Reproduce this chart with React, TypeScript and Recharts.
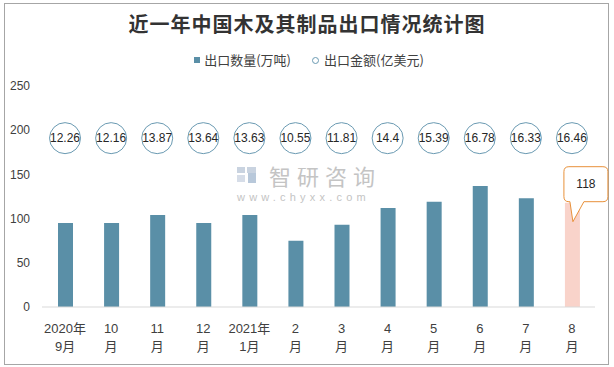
import React from 'react';
import { ComposedChart, Bar, Line, XAxis, YAxis, Cell } from 'recharts';

const categories = ['2020年9月', '10月', '11月', '12月', '2021年1月', '2月', '3月', '4月', '5月', '6月', '7月', '8月'];
const tickTop = ['2020年', '10', '11', '12', '2021年', '2', '3', '4', '5', '6', '7', '8'];
const tickBottom = ['9月', '月', '月', '月', '1月', '月', '月', '月', '月', '月', '月', '月'];
const exportVolume = [95, 95, 104, 95, 104, 75, 93, 112, 119, 137, 123, 118];
const exportValue = [12.26, 12.16, 13.87, 13.64, 13.63, 10.55, 11.81, 14.4, 15.39, 16.78, 16.33, 16.46];
const valueMarkerLevel = 191;
const yTicks = [0, 50, 100, 150, 200, 250];

const data = categories.map((c, i) => ({
  category: c,
  volume: exportVolume[i],
  value: exportValue[i],
  marker: valueMarkerLevel,
}));

const BAR = '#5A8FA7';
const PINK = '#F9D3CA';
const CIRCLE = '#6A9AB2';
const ORANGE = '#E8913A';
const FONT = '"Liberation Sans", "Noto Sans CJK SC", sans-serif';
const CJK = '"Noto Sans CJK SC", sans-serif';

const XTick = (props: any) => {
  const { x, y, index } = props;
  return (
    <g>
      <text x={x} y={y + 19} textAnchor="middle" dominantBaseline="central" fontSize={13} fill="#404040" fontFamily={FONT}>
        {tickTop[index]}
      </text>
      <text x={x} y={y + 37} textAnchor="middle" dominantBaseline="central" fontSize={13} fill="#404040" fontFamily={FONT}>
        {tickBottom[index]}
      </text>
    </g>
  );
};

const ValueDot = (props: any) => {
  const { cx, cy, index, payload } = props;
  return (
    <g key={`dot-${index}`}>
      <circle cx={cx} cy={cy} r={15.5} fill="#fff" stroke={CIRCLE} strokeWidth={1} />
      <text x={cx} y={cy} textAnchor="middle" dominantBaseline="central" fontSize={12} fill="#262626" fontFamily={FONT}>
        {payload.value}
      </text>
    </g>
  );
};

const Callout = (props: any) => {
  const { x, y, index, value } = props;
  if (index !== categories.length - 1) return null;
  const L = x - 1;
  const R = x + 43;
  const T = y - 36;
  const B = y - 1;
  const r = 5;
  const d = `M ${L + r},${T} H ${R - r} Q ${R},${T} ${R},${T + r} V ${B - r} Q ${R},${B} ${R - r},${B} H ${x + 19} L ${x + 8},${y + 19} L ${x + 5},${B} H ${L + r} Q ${L},${B} ${L},${B - r} V ${T + r} Q ${L},${T} ${L + r},${T} Z`;
  return (
    <g>
      <path d={d} fill="#fff" stroke={ORANGE} strokeWidth={1} />
      <text x={(L + R) / 2} y={(T + B) / 2} textAnchor="middle" dominantBaseline="central" fontSize={12} fill="#262626" fontFamily={FONT}>
        {value}
      </text>
    </g>
  );
};

export default function App() {
  return (
    <div style={{ position: 'absolute', left: 0, top: 0, width: 614, height: 367, background: '#fff', fontFamily: CJK }}>
      <div style={{ position: 'absolute', left: 4, top: 3, width: 603, height: 360, border: '1px solid #a6a6a6' }} />
      <div style={{ position: 'absolute', left: 0, top: 10, width: 614, textAlign: 'center', fontSize: 20, fontWeight: 700, color: '#333', lineHeight: '28px', fontFamily: CJK, letterSpacing: 1 }}>
        近一年中国木及其制品出口情况统计图
      </div>
      <div style={{ position: 'absolute', left: 0, top: 51, width: 614, display: 'flex', justifyContent: 'center', alignItems: 'center', fontSize: 13, color: '#404040', lineHeight: '18px', paddingLeft: 2 }}>
        <span style={{ display: 'inline-block', width: 6, height: 6, background: BAR, marginRight: 4 }} />
        <span>出口数量(万吨)</span>
        <span style={{ display: 'inline-block', width: 5, height: 5, borderRadius: '50%', border: `1px solid ${CIRCLE}`, marginLeft: 21, marginRight: 5 }} />
        <span>出口金额(亿美元)</span>
      </div>
      <div style={{ position: 'absolute', left: 237, top: 164, width: 145, height: 40, pointerEvents: 'none' }}>
        <svg width={145} height={40} style={{ position: 'absolute', left: 0, top: 0 }}>
          <rect x={0} y={3} width={8} height={6} fill="#c9d3e0" />
          <rect x={10} y={3} width={9} height={6} fill="#c9d3e0" />
          <rect x={0} y={11} width={8} height={7} fill="#d6dde8" />
          <rect x={11} y={9} width={8} height={10} fill="#b8c8da" />
        </svg>
        <div style={{ position: 'absolute', left: 32, top: 0, fontSize: 22, letterSpacing: 6, color: '#c4c4c4', lineHeight: '22px', whiteSpace: 'nowrap' }}>智研咨询</div>
        <div style={{ position: 'absolute', left: 0, top: 27, fontSize: 11, letterSpacing: 4.2, color: '#c4c4c4', lineHeight: '12px', whiteSpace: 'nowrap', fontFamily: FONT }}>www.chyxx.com</div>
      </div>
      <div style={{ position: 'absolute', left: 0, top: 0 }}>
        <ComposedChart width={614} height={367} data={data} margin={{ top: 86, right: 19, bottom: 10, left: 8 }}>
          <XAxis
            dataKey="category"
            interval={0}
            tickLine={false}
            tickSize={0}
            axisLine={{ stroke: '#d9d9d9' }}
            tick={<XTick />}
            height={50}
          />
          <YAxis
            domain={[0, 250]}
            ticks={yTicks}
            axisLine={false}
            tickLine={false}
            tickSize={0}
            tickMargin={12}
            width={34}
            tick={{ fontSize: 12, fill: '#404040', fontFamily: FONT }}
          />
          <Bar dataKey="volume" barSize={15} isAnimationActive={false} label={<Callout />}>
            {data.map((d, i) => (
              <Cell key={d.category} fill={i === data.length - 1 ? PINK : BAR} />
            ))}
          </Bar>
          <Line dataKey="marker" stroke="none" dot={<ValueDot />} activeDot={false} isAnimationActive={false} />
        </ComposedChart>
      </div>
    </div>
  );
}
